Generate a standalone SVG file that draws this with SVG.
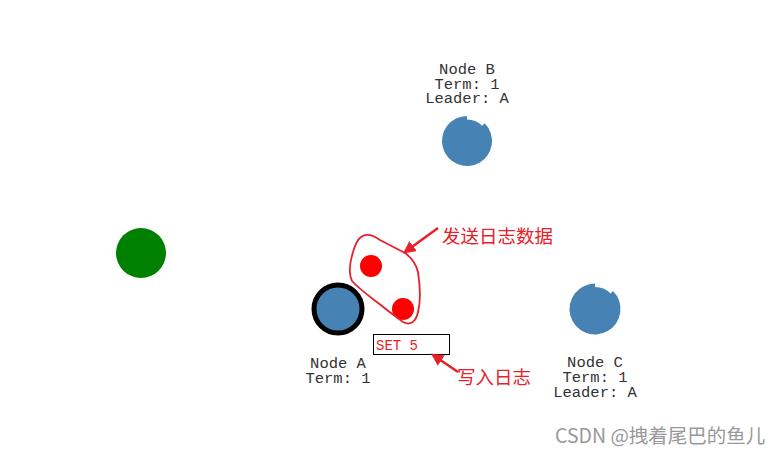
<svg xmlns="http://www.w3.org/2000/svg" width="781" height="454" viewBox="0 0 781 454">
<defs>
<style>
.lbl{font-family:"Liberation Mono","Courier New",monospace;font-size:15.5px;fill:#333;text-anchor:middle}
.node{fill:#4682b4}
.ann{font-family:"Noto Sans CJK SC","Noto Sans",sans-serif;font-size:18.5px;fill:#e8202a}
.red{stroke:#e8202a;stroke-width:2.5;fill:none}
</style>
<marker id="ah" viewBox="0 0 10 10" refX="8" refY="5" markerWidth="5" markerHeight="5" orient="auto">
<path d="M0,0 L10,5 L0,10 Z" fill="#e8202a"/>
</marker>
</defs>
<rect width="781" height="454" fill="#fff"/>
<g id="node-b">
<path class="node" d="M467,116 A25,25 0 1 0 484.68,123.32 L482.2,125.8 A21.5,21.5 0 0 0 467,119.5 Z"/>
<text class="lbl" x="467" y="74">Node B</text>
<text class="lbl" x="467" y="88.5">Term: 1</text>
<text class="lbl" x="467" y="103">Leader: A</text>
</g>
<g id="node-c">
<path class="node" d="M595,283.5 A25.5,25.5 0 1 0 613.03,290.97 L610.56,293.44 A22,22 0 0 0 595,287 Z"/>
<text class="lbl" x="595" y="367">Node C</text>
<text class="lbl" x="595" y="382">Term: 1</text>
<text class="lbl" x="595" y="397">Leader: A</text>
</g>
<g id="node-a">
<circle class="node" cx="338" cy="309" r="24" stroke="#000" stroke-width="5"/>
<text class="lbl" x="338" y="368">Node A</text>
<text class="lbl" x="338" y="383">Term: 1</text>
</g>
<g id="client">
<circle cx="141" cy="253" r="25" fill="#008000"/>
</g>
<g id="messages">
<circle cx="371" cy="266" r="11" fill="#ff0000"/>
<circle cx="403" cy="309" r="11" fill="#ff0000"/>
<path d="M361,237 C366,233 373,235 380,240 L405,253 C412,258 416,264 418,272 C420,285 421,300 418,312 C416,322 410,326 403,322 C395,316 388,311 382,306 C372,298 360,290 352,281 C348,273 350,262 353,252 C355,245 357,240 361,237 Z" fill="none" stroke="#e8202a" stroke-width="1.8"/>
</g>
<g id="log">
<rect x="373.5" y="334.5" width="76" height="20" fill="#fff" stroke="#000" stroke-width="1"/>
<text x="376" y="350" font-family="Liberation Mono,monospace" font-size="14" fill="#e8202a">SET 5</text>
</g>
<g id="connectors">
<line class="red" x1="438" y1="228" x2="405" y2="252" marker-end="url(#ah)"/>
<line class="red" x1="458" y1="372" x2="433" y2="355" marker-end="url(#ah)"/>
</g>
<text class="ann" x="442" y="243">发送日志数据</text>
<text class="ann" x="457" y="384">写入日志</text>
<text x="555" y="443" font-family="Noto Sans CJK SC,Noto Sans,sans-serif" font-size="19.5" fill="#999">CSDN @拽着尾巴的鱼儿</text>
</svg>
